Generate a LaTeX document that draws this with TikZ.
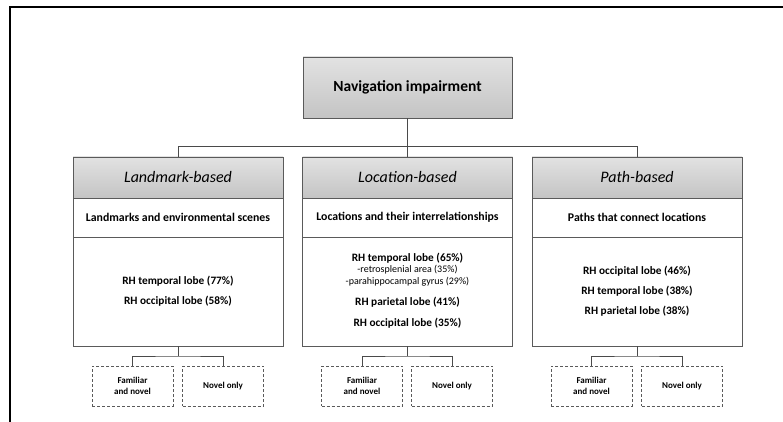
\documentclass[tikz,border=0pt]{standalone}
\usepackage{fontspec}
\setmainfont{Carlito}
\definecolor{boxgray}{HTML}{5A5A5A}
\definecolor{linegray}{HTML}{4A4A4A}
\definecolor{hdrtop}{HTML}{E2E2E2}
\definecolor{hdrbot}{HTML}{C4C4C4}
\begin{document}
\begin{tikzpicture}[x=1pt,y=-1pt,
  box/.style={draw=boxgray, line width=0.9pt, minimum width=210pt, inner sep=0pt},
  topbox/.style={box, minimum width=209pt, minimum height=61pt, top color=hdrtop, bottom color=hdrbot, font=\fontsize{15.5}{18}\selectfont\bfseries},
  hdr/.style={box, minimum height=41pt, top color=hdrtop, bottom color=hdrbot, font=\fontsize{16}{19}\selectfont\itshape},
  desc/.style={box, minimum height=39pt, fill=white, font=\fontsize{11.8}{14}\selectfont\bfseries},
  body/.style={box, minimum height=109pt, fill=white},
  lobe/.style={font=\fontsize{11.3}{13}\selectfont\bfseries, inner sep=0pt},
  subl/.style={font=\fontsize{10}{12}\selectfont, inner sep=0pt},
  opt/.style={draw=boxgray, dash pattern=on 3pt off 2pt, line width=0.9pt, minimum width=81pt, minimum height=40pt, align=center, font=\fontsize{9}{11}\selectfont\bfseries, inner sep=0pt},
  link/.style={draw=linegray, line width=0.8pt}]
\useasboundingbox (0,0) rectangle (783,422);
\fill[white] (0,0) rectangle (783,422);
% frame
\coordinate (frTR) at (783,7);
\coordinate (frTL) at (10,7);
\coordinate (frBL) at (10,422);
\draw[line width=2.2pt, black] (frTR) -- (frTL) -- (frBL);

% top
\node[topbox] (top) at (407.5,87.5) {Navigation impairment};

% headers
\node[hdr] (hdrL) at (178,177.5) {Landmark-based};
\node[hdr] (hdrM) at (407.5,177.5) {Location-based};
\node[hdr] (hdrR) at (637,177.5) {Path-based};

% descriptions
\node[desc] (descL) at (178,217.5) {Landmarks and environmental scenes};
\node[desc] (descM) at (407.5,217.5) {Locations and their interrelationships};
\node[desc] (descR) at (637,217.5) {Paths that connect locations};

% bodies
\node[body] (bodyL) at (178,291.5) {};
\node[body] (bodyM) at (407.5,291.5) {};
\node[body] (bodyR) at (637,291.5) {};

% left lobes
\node[lobe] (l1) at (178,281) {RH temporal lobe (77\%)};
\node[lobe] (l2) at (178,301) {RH occipital lobe (58\%)};
% middle lobes
\node[lobe] (m1) at (407.5,258) {RH temporal lobe (65\%)};
\node[subl] (m2) at (407.5,270) {-retrosplenial area (35\%)};
\node[subl] (m3) at (407.5,282) {-parahippocampal gyrus (29\%)};
\node[lobe] (m4) at (407.5,302) {RH parietal lobe (41\%)};
\node[lobe] (m5) at (407.5,323) {RH occipital lobe (35\%)};
% right lobes
\node[lobe] (r1) at (637,271) {RH occipital lobe (46\%)};
\node[lobe] (r2) at (637,291) {RH temporal lobe (38\%)};
\node[lobe] (r3) at (637,311) {RH parietal lobe (38\%)};

% options
\node[opt] (famL) at (132.5,386) {Familiar\\and novel};
\node[opt] (novL) at (223,386) {Novel only};
\node[opt] (famM) at (362,386) {Familiar\\and novel};
\node[opt] (novM) at (452,386) {Novel only};
\node[opt] (famR) at (591.5,386) {Familiar\\and novel};
\node[opt] (novR) at (682,386) {Novel only};

% connectors top
\coordinate (busL) at (178,146);
\coordinate (busR) at (637,146);
\draw[link] (top.south) -- (hdrM.north);
\draw[link] (hdrL.north) -- (busL) -- (busR) -- (hdrR.north);

% connectors bottom
\coordinate (brL) at (178,356);
\coordinate (brM) at (407.5,356);
\coordinate (brR) at (637,356);
\draw[link] (bodyL.south) -- (brL);
\draw[link] (famL.north) |- (brL) -| (novL.north);
\draw[link] (bodyM.south) -- (brM);
\draw[link] (famM.north) |- (brM) -| (novM.north);
\draw[link] (bodyR.south) -- (brR);
\draw[link] (famR.north) |- (brR) -| (novR.north);
\end{tikzpicture}
\end{document}
